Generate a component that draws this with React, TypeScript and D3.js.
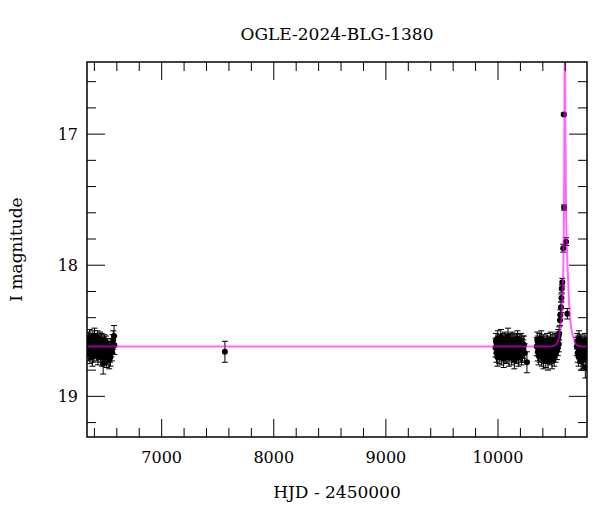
import React from 'react';
import * as d3 from 'd3';

// OGLE I-band photometry: [HJD - 2450000, I mag, error]
const season2013: number[][] = [
  [6338, 18.6, 0.06], [6342, 18.64, 0.07], [6346, 18.57, 0.06], [6350, 18.66, 0.07], [6353, 18.61, 0.06],
  [6357, 18.55, 0.06], [6360, 18.68, 0.07], [6364, 18.62, 0.06], [6368, 18.59, 0.06], [6371, 18.65, 0.07],
  [6375, 18.58, 0.06], [6379, 18.63, 0.06], [6382, 18.7, 0.07], [6386, 18.56, 0.06], [6390, 18.61, 0.06],
  [6393, 18.67, 0.07], [6397, 18.6, 0.06], [6401, 18.54, 0.06], [6404, 18.64, 0.07], [6408, 18.62, 0.06],
  [6412, 18.58, 0.06], [6416, 18.66, 0.07], [6419, 18.6, 0.06], [6423, 18.63, 0.06], [6427, 18.56, 0.06],
  [6431, 18.69, 0.07], [6434, 18.61, 0.06], [6438, 18.59, 0.06], [6442, 18.65, 0.07], [6446, 18.62, 0.06],
  [6450, 18.57, 0.06], [6453, 18.67, 0.07], [6457, 18.6, 0.06], [6461, 18.64, 0.07], [6465, 18.58, 0.06],
  [6469, 18.7, 0.07], [6473, 18.62, 0.06], [6478, 18.75, 0.08], [6482, 18.61, 0.06], [6486, 18.66, 0.07],
  [6490, 18.59, 0.06], [6494, 18.68, 0.07], [6499, 18.63, 0.06], [6503, 18.6, 0.06], [6508, 18.71, 0.07],
  [6512, 18.65, 0.07], [6517, 18.62, 0.06], [6522, 18.69, 0.07], [6527, 18.64, 0.06], [6532, 18.72, 0.07],
  [6538, 18.67, 0.07], [6543, 18.7, 0.07], [6550, 18.63, 0.07], [6556, 18.66, 0.07], [6562, 18.6, 0.07],
  [6568, 18.57, 0.07], [6575, 18.54, 0.08], [6578, 18.61, 0.07],
];

const season2016: number[][] = [[7564, 18.66, 0.08]];

const season2023: number[][] = [
  [9978, 18.63, 0.07], [9982, 18.58, 0.06], [9986, 18.67, 0.07], [9990, 18.61, 0.06], [9994, 18.7, 0.07],
  [9998, 18.56, 0.06], [10002, 18.64, 0.07], [10006, 18.6, 0.06], [10010, 18.68, 0.07], [10014, 18.59, 0.06],
  [10018, 18.65, 0.07], [10022, 18.62, 0.06], [10026, 18.55, 0.06], [10030, 18.69, 0.07], [10034, 18.61, 0.06],
  [10038, 18.66, 0.07], [10042, 18.58, 0.06], [10046, 18.63, 0.06], [10050, 18.71, 0.07], [10054, 18.6, 0.06],
  [10058, 18.64, 0.07], [10062, 18.57, 0.06], [10066, 18.67, 0.07], [10070, 18.62, 0.06], [10074, 18.59, 0.06],
  [10078, 18.68, 0.07], [10082, 18.61, 0.06], [10086, 18.65, 0.07], [10090, 18.54, 0.06], [10094, 18.63, 0.06],
  [10098, 18.7, 0.07], [10102, 18.6, 0.06], [10106, 18.66, 0.07], [10110, 18.58, 0.06], [10114, 18.64, 0.07],
  [10118, 18.62, 0.06], [10122, 18.69, 0.07], [10126, 18.57, 0.06], [10130, 18.65, 0.07], [10134, 18.61, 0.06],
  [10138, 18.67, 0.07], [10142, 18.59, 0.06], [10146, 18.72, 0.07], [10150, 18.63, 0.06], [10154, 18.6, 0.06],
  [10158, 18.66, 0.07], [10162, 18.58, 0.06], [10166, 18.68, 0.07], [10170, 18.62, 0.06], [10174, 18.56, 0.06],
  [10178, 18.64, 0.07], [10182, 18.7, 0.07], [10186, 18.61, 0.06], [10190, 18.65, 0.07], [10194, 18.59, 0.06],
  [10198, 18.67, 0.07], [10202, 18.63, 0.06], [10206, 18.58, 0.06], [10210, 18.69, 0.07], [10214, 18.62, 0.06],
  [10218, 18.66, 0.07], [10222, 18.6, 0.06], [10226, 18.64, 0.07], [10232, 18.61, 0.07], [10238, 18.67, 0.07],
  [10258, 18.74, 0.08],
];

const season2024: number[][] = [
  [10346, 18.62, 0.07], [10350, 18.57, 0.06], [10354, 18.66, 0.07], [10358, 18.6, 0.06], [10362, 18.69, 0.07],
  [10366, 18.63, 0.06], [10370, 18.58, 0.06], [10374, 18.67, 0.07], [10378, 18.61, 0.06], [10382, 18.64, 0.07],
  [10386, 18.56, 0.06], [10390, 18.7, 0.07], [10394, 18.62, 0.06], [10398, 18.66, 0.07], [10402, 18.59, 0.06],
  [10406, 18.72, 0.07], [10410, 18.63, 0.06], [10414, 18.68, 0.07], [10418, 18.6, 0.06], [10422, 18.65, 0.07],
  [10426, 18.71, 0.07], [10430, 18.62, 0.06], [10434, 18.67, 0.07], [10438, 18.58, 0.06], [10442, 18.64, 0.07],
  [10446, 18.73, 0.07], [10450, 18.61, 0.06], [10454, 18.66, 0.07], [10458, 18.6, 0.06], [10462, 18.69, 0.07],
  [10466, 18.63, 0.06], [10470, 18.57, 0.06], [10474, 18.68, 0.07], [10478, 18.62, 0.06], [10482, 18.72, 0.07],
  [10486, 18.65, 0.07], [10490, 18.59, 0.06], [10494, 18.66, 0.07], [10498, 18.61, 0.06], [10502, 18.7, 0.07],
  [10506, 18.64, 0.06], [10510, 18.58, 0.06], [10514, 18.67, 0.07], [10518, 18.62, 0.06], [10522, 18.6, 0.06],
  [10526, 18.65, 0.07], [10530, 18.57, 0.06], [10534, 18.63, 0.06], [10538, 18.55, 0.06], [10542, 18.6, 0.06],
  [10546, 18.52, 0.05], [10553, 18.42, 0.04], [10556, 18.38, 0.04], [10562, 18.32, 0.04], [10566, 18.25, 0.03],
  [10569, 18.18, 0.03], [10574, 18.13, 0.03], [10582, 17.87, 0.03], [10587, 16.85, 0.01], [10590, 17.56, 0.02],
  [10607, 17.82, 0.03], [10618, 18.37, 0.04],
];

const season2025: number[][] = [
  [10703, 18.62, 0.07], [10707, 18.58, 0.06], [10711, 18.67, 0.07], [10715, 18.6, 0.06], [10719, 18.7, 0.07],
  [10723, 18.56, 0.06], [10727, 18.64, 0.07], [10731, 18.61, 0.06], [10735, 18.68, 0.07], [10739, 18.59, 0.06],
  [10743, 18.73, 0.07], [10747, 18.63, 0.06], [10751, 18.66, 0.07], [10755, 18.72, 0.07], [10759, 18.6, 0.06],
  [10763, 18.69, 0.07], [10767, 18.62, 0.06], [10771, 18.65, 0.07], [10775, 18.58, 0.06], [10779, 18.78, 0.08],
  [10783, 18.64, 0.06], [10787, 18.67, 0.07], [10791, 18.61, 0.06], [10795, 18.66, 0.07],
];

// fitted model
const modelHjd = [6334, 10440, 10500, 10524, 10544, 10558, 10568, 10577, 10583, 10589, 10593, 10597,
  10601, 10607, 10614, 10622, 10632, 10642, 10656, 10672, 10702, 10740, 10794];
const modelMag = [18.62, 18.62, 18.615, 18.6, 18.55, 18.47, 18.38, 18.2, 18.02, 17.55, 16.9, 16.0,
  16.9, 17.55, 17.85, 18.04, 18.25, 18.39, 18.49, 18.55, 18.61, 18.62, 18.62];

const xTickLabels = [7000, 8000, 9000, 10000];
const yTickLabels = [17, 18, 19];

const W = 600;
const H = 512;
const left = 87, right = 587, top = 62, bottom = 437;
const font = '"DejaVu Serif", serif';

const x = d3.scaleLinear().domain([6334, 10794]).range([left, right]);
const y = d3.scaleLinear().domain([16.45, 19.31]).range([top, bottom]);

const points = [...season2013, ...season2016, ...season2023, ...season2024, ...season2025];

const modelLine = d3
  .line<number>()
  .x((d, i) => x(modelHjd[i]))
  .y(d => y(d))
  .curve(d3.curveMonotoneX);

// minor ticks every 200 d and 0.2 mag
const xMinor = d3.range(6400, 10800, 200);
const yMinor = d3.range(1660, 1932, 20).map(v => v / 100);

export default function App() {
  return (
    <svg width={W} height={H} style={{ position: 'absolute', left: 0, top: 0, background: '#fff' }}>
      <defs>
        <clipPath id="plot">
          <rect x={left} y={top} width={right - left} height={bottom - top} />
        </clipPath>
      </defs>
      <rect width={W} height={H} fill="#fff" />
      <g clipPath="url(#plot)">
        {points.map((p, i) => {
          const cx = x(p[0]);
          const y1 = y(p[1] - p[2]);
          const y2 = y(p[1] + p[2]);
          return (
            <g key={i} stroke="#000" strokeWidth={1}>
              <line x1={cx} x2={cx} y1={y1} y2={y2} />
              <line x1={cx - 3} x2={cx + 3} y1={y1} y2={y1} />
              <line x1={cx - 3} x2={cx + 3} y1={y2} y2={y2} />
              <circle cx={cx} cy={y(p[1])} r={3} fill="#000" stroke="none" />
            </g>
          );
        })}
        <path d={modelLine(modelMag) || ''} fill="none" stroke="#ff00ff" strokeOpacity={0.6} strokeWidth={2} />
      </g>
      <g stroke="#000" strokeWidth={1}>
        {xMinor.map(v => {
          const len = v % 1000 === 0 ? 18 : 9;
          return (
            <g key={'x' + v}>
              <line x1={x(v)} x2={x(v)} y1={bottom} y2={bottom - len} />
              <line x1={x(v)} x2={x(v)} y1={top} y2={top + len} />
            </g>
          );
        })}
        {yMinor.map(v => {
          const len = Math.abs(v - Math.round(v)) < 1e-6 ? 18 : 9;
          return (
            <g key={'y' + v}>
              <line x1={left} x2={left + len} y1={y(v)} y2={y(v)} />
              <line x1={right} x2={right - len} y1={y(v)} y2={y(v)} />
            </g>
          );
        })}
      </g>
      <rect x={left} y={top} width={right - left} height={bottom - top} fill="none" stroke="#000" strokeWidth={1.5} />
      <g fontFamily={font} fontSize={16} fill="#000">
        {xTickLabels.map(v => (
          <text key={v} x={x(v)} y={463} textAnchor="middle">{v}</text>
        ))}
        {yTickLabels.map(v => (
          <text key={v} x={78} y={y(v) + 6} textAnchor="end">{v}</text>
        ))}
      </g>
      <g fontFamily={font} fontSize={17} fill="#000">
        <text x={(left + right) / 2} y={40} textAnchor="middle">OGLE-2024-BLG-1380</text>
        <text x={(left + right) / 2} y={498} textAnchor="middle">HJD - 2450000</text>
        <text transform={`translate(22,${(top + bottom) / 2}) rotate(-90)`} textAnchor="middle">I magnitude</text>
      </g>
    </svg>
  );
}
